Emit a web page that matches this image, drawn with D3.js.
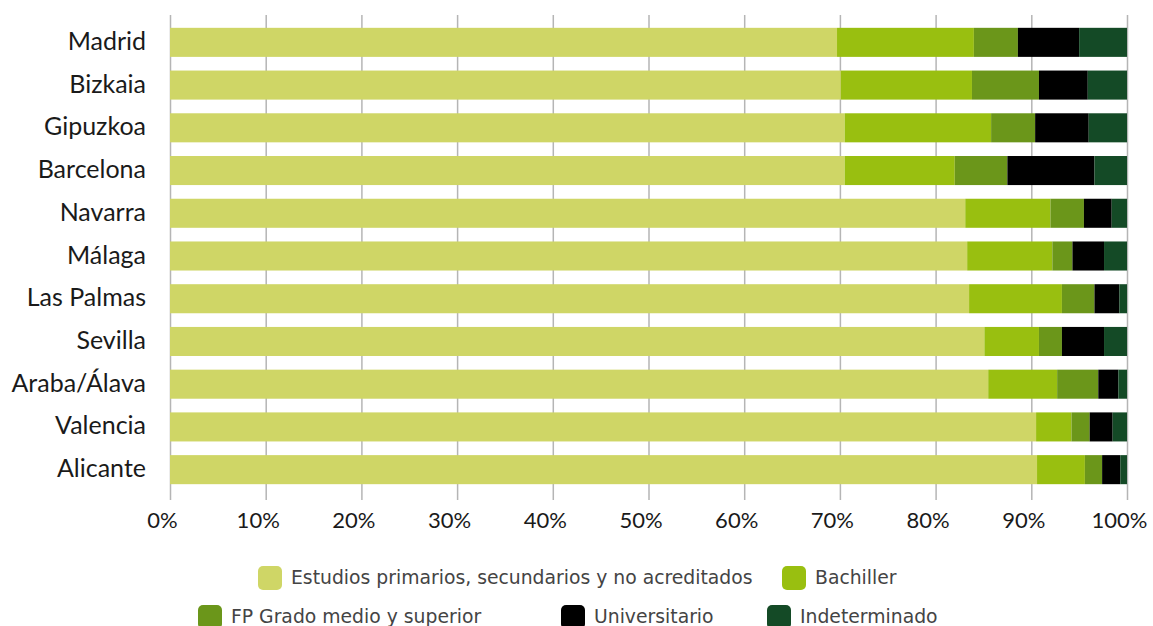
<!DOCTYPE html>
<html lang="es">
<head>
  <meta charset="utf-8">
  <title>Nivel de estudios por provincia</title>
  <script src="https://cdn.jsdelivr.net/npm/d3@7/dist/d3.min.js"></script>
  <style>
    * { box-sizing: border-box; margin: 0; padding: 0; }
    body { background: #fff; overflow: hidden; }
    svg { display: block; }
  </style>
</head>
<body>
  <svg id="chart"></svg>

  <script>
    const W = 1153
    const H = 626

    const provinces = ['Madrid', 'Bizkaia', 'Gipuzkoa', 'Barcelona', 'Navarra', 'Málaga',
      'Las Palmas', 'Sevilla', 'Araba/Álava', 'Valencia', 'Alicante']

    const seriesNames = ['Estudios primarios, secundarios y no acreditados', 'Bachiller',
      'FP Grado medio y superior', 'Universitario', 'Indeterminado']

    // % per province, same order as provinces
    const primarios    = [69.7, 70.1, 70.5, 70.5, 83.1, 83.3, 83.5, 85.1, 85.5, 90.5, 90.6]
    const bachiller    = [14.3, 13.7, 15.3, 11.5,  8.9,  8.9,  9.7,  5.7,  7.2,  3.7,  5.0]
    const fp           = [ 4.6,  7.0,  4.6,  5.5,  3.5,  2.1,  3.4,  2.4,  4.3,  1.9,  1.8]
    const universitario= [ 6.4,  5.1,  5.6,  9.1,  2.9,  3.3,  2.6,  4.4,  2.1,  2.4,  1.9]
    const indeterminado= [ 5.0,  4.1,  4.0,  3.4,  1.6,  2.4,  0.8,  2.4,  0.9,  1.5,  0.7]

    const xTicks = [0, 10, 20, 30, 40, 50, 60, 70, 80, 90, 100]

    const colors = ['#cfd666', '#99bf10', '#6b961a', '#000000', '#144a26']

    const seriesValues = [primarios, bachiller, fp, universitario, indeterminado]
    const table = provinces.map((p, i) => {
      const row = { province: p }
      seriesNames.forEach((s, j) => { row[s] = seriesValues[j][i] })
      return row
    })
    const stacked = d3.stack().keys(seriesNames)(table)

    const svg = d3.select('#chart').attr('width', W).attr('height', H)

    const x = d3.scaleLinear().domain([0, 100]).range([170, 1127])
    const y = d3.scaleBand().domain(provinces).range([15, 497])
      .paddingInner(0.32).paddingOuter(0.3)

    // grid + tick labels
    const grid = svg.append('g')
      .attr('transform', 'translate(0,500)')
      .call(d3.axisBottom(x).tickValues(xTicks).tickSize(-485).tickFormat(d => d + '%'))
    grid.select('.domain').remove()
    grid.selectAll('.tick line').attr('stroke', '#b5b5b5').attr('stroke-width', 1.5)
    grid.selectAll('.tick text')
      .attr('y', 28)
      .attr('dy', 0)
      .attr('dx', -8)
      .attr('fill', '#1a1a1a')
      .attr('font-family', 'Lato, "Open Sans", sans-serif')
      .attr('font-size', 22)

    // bars
    svg.append('g')
      .selectAll('g')
      .data(stacked)
      .join('g')
      .attr('fill', (d, i) => colors[i])
      .selectAll('rect')
      .data(d => d)
      .join('rect')
      .attr('x', d => x(d[0]))
      .attr('width', d => x(d[1]) - x(d[0]))
      .attr('y', d => y(d.data.province))
      .attr('height', y.bandwidth())

    // category labels
    const yAxis = svg.append('g')
      .attr('transform', 'translate(146,0)')
      .call(d3.axisLeft(y).tickSize(0).tickPadding(0))
    yAxis.select('.domain').remove()
    yAxis.selectAll('.tick text')
      .attr('fill', '#1a1a1a')
      .attr('font-family', 'Lato, "Open Sans", sans-serif')
      .attr('font-size', 25)
      .attr('dy', '0.3em')

    // legend
    const legendPos = [[258, 566], [782, 566], [198, 605], [561, 605], [767, 605]]
    const legend = svg.append('g')
      .selectAll('g')
      .data(seriesNames)
      .join('g')
      .attr('transform', (d, i) => 'translate(' + legendPos[i][0] + ',' + legendPos[i][1] + ')')

    legend.append('rect')
      .attr('width', 24).attr('height', 24)
      .attr('rx', 5).attr('ry', 5)
      .attr('fill', (d, i) => colors[i])

    legend.append('text')
      .attr('x', 33)
      .attr('y', 18)
      .attr('fill', '#444')
      .attr('font-family', '"DejaVu Sans", sans-serif')
      .attr('font-size', 18.8)
      .text(d => d)
  </script>
</body>
</html>
